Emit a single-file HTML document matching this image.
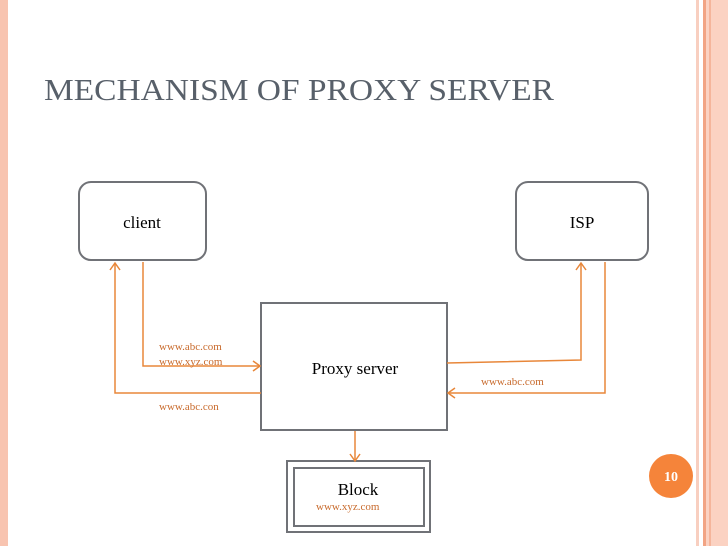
<!DOCTYPE html>
<html><head><meta charset="utf-8"><style>
html,body{margin:0;padding:0;background:#fff;}
svg{display:block}
</style></head><body>
<svg width="728" height="546" viewBox="0 0 728 546" xmlns="http://www.w3.org/2000/svg" font-family="Liberation Serif, serif">
<rect x="0" y="0" width="728" height="546" fill="#fff"/>
<rect x="0" y="0" width="8" height="546" fill="#f8c4b0"/>
<rect x="696" y="0" width="3" height="546" fill="#f8cfc0"/>
<rect x="703" y="0" width="25" height="546" fill="#fbd2c2"/>
<rect x="703" y="0" width="3" height="546" fill="#f2a484"/>
<rect x="709" y="0" width="2" height="546" fill="#f5b59b"/>
<text x="44" y="100" font-size="31" fill="#58606a" textLength="510" lengthAdjust="spacingAndGlyphs">MECHANISM OF PROXY SERVER</text>
<g fill="#fff" stroke="#707277" stroke-width="2">
<rect x="79" y="182" width="127" height="78" rx="12"/>
<rect x="516" y="182" width="132" height="78" rx="12"/>
<rect x="261" y="303" width="186" height="127"/>
<rect x="287" y="461" width="143" height="71"/>
<rect x="294" y="468" width="130" height="58"/>
</g>
<g font-size="17" fill="#000">
<text x="142" y="228" text-anchor="middle">client</text>
<text x="582" y="228" text-anchor="middle">ISP</text>
<text x="355" y="374" text-anchor="middle">Proxy server</text>
<text x="358" y="495" text-anchor="middle">Block</text>
</g>
<g fill="none" stroke="#e8873a" stroke-width="1.5">
<polyline points="143,262 143,366 260,366"/>
<polyline points="253,361 260,366 253,371"/>
<polyline points="261,393 115,393 115,263"/>
<polyline points="110,270 115,263 120,270"/>
<polyline points="447,363 581,360 581,263"/>
<polyline points="576,270 581,263 586,270"/>
<polyline points="605,262 605,393 448,393"/>
<polyline points="455,388 448,393 455,398"/>
<polyline points="355,431 355,461"/>
<polyline points="350,454 355,461 360,454"/>
</g>
<g font-size="11" fill="#c86a2c">
<text x="159" y="350">www.abc.com</text>
<text x="159" y="365">www.xyz.com</text>
<text x="159" y="410">www.abc.con</text>
<text x="481" y="385">www.abc.com</text>
<text x="316" y="510">www.xyz.com</text>
</g>
<circle cx="671" cy="476" r="22" fill="#f5843a"/>
<text x="671" y="481" font-size="14" font-weight="bold" fill="#fff" text-anchor="middle">10</text>
</svg>
</body></html>
